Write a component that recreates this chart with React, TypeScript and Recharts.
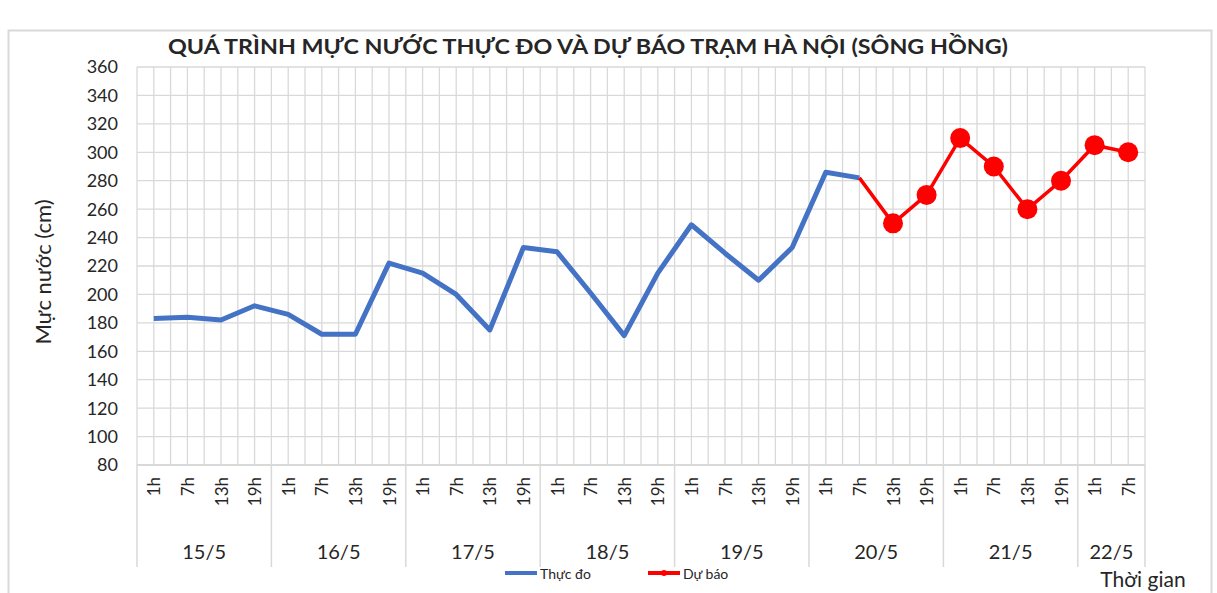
import React from 'react'
import { LineChart, Line, XAxis, YAxis, CartesianGrid, Legend } from 'recharts'

const days = ['15/5', '16/5', '17/5', '18/5', '19/5', '20/5', '21/5', '22/5']
const hoursPerDay = [4, 4, 4, 4, 4, 4, 4, 2]
const hourLabels = ['1h', '7h', '13h', '19h']

// Thực đo (measured), 15/5 1h .. 20/5 7h
const observed = [
    183, 184, 182, 192,
    186, 172, 172, 222,
    215, 200, 175, 233,
    230, 201, 171, 215,
    249, 229, 210, 233,
    286, 282,
]
// Dự báo (forecast), joins the measured line at 20/5 7h
const forecastStart = 21
const forecast = [282, 250, 270, 310, 290, 260, 280, 305, 300]

const yTicks = [80, 100, 120, 140, 160, 180, 200, 220, 240, 260, 280, 300, 320, 340, 360]

const W = 1217
const H = 593
const PLOT_LEFT = 137
const PLOT_RIGHT = 1145
const PLOT_TOP = 67
const PLOT_BOTTOM = 465
const FONT = 'Lato, "Noto Sans", sans-serif'
const TEXT = '#262626'
const GRID = '#d9d9d9'

type Row = {
    key: string
    day: string
    hour: string
    first: boolean
    groupSize: number
    observed: number | null
    forecast: number | null
}

const rows: Row[] = []
days.forEach((day, d) => {
    for (let h = 0; h < hoursPerDay[d]; h++) {
        const i = rows.length
        rows.push({
            key: `${day} ${hourLabels[h]}`,
            day,
            hour: hourLabels[h],
            first: h === 0,
            groupSize: hoursPerDay[d],
            observed: i < observed.length ? observed[i] : null,
            forecast: i >= forecastStart ? forecast[i - forecastStart] : null,
        })
    }
})

const BAND = (PLOT_RIGHT - PLOT_LEFT) / rows.length

function HourDayTick(props: any) {
    const { x, y, payload } = props
    const i = payload.index
    const row = rows[i]
    const left = x - BAND / 2
    return (
        <g>
            <text
                transform={`translate(${x},${y + 12}) rotate(-90)`}
                textAnchor="end"
                dominantBaseline="central"
                fontSize={17}
                fontFamily={FONT}
                fill={TEXT}
            >
                {row.hour}
            </text>
            {row.first && (
                <line x1={left} x2={left} y1={y} y2={y + 102} stroke={GRID} strokeWidth={1.5} />
            )}
            {row.first && (
                <text
                    x={left + (row.groupSize * BAND) / 2}
                    y={y + 86}
                    textAnchor="middle"
                    dominantBaseline="central"
                    fontSize={20}
                    fontFamily={FONT}
                    fill={TEXT}
                >
                    {row.day}
                </text>
            )}
            {i === rows.length - 1 && (
                <line x1={x + BAND / 2} x2={x + BAND / 2} y1={y} y2={y + 102} stroke={GRID} strokeWidth={1.5} />
            )}
        </g>
    )
}

function ForecastDot(props: any) {
    const { cx, cy, index, value } = props
    if (value == null || index <= forecastStart) return <g key={`d-${index}`} />
    return <circle key={`d-${index}`} cx={cx} cy={cy} r={10} fill="#ff0000" />
}

function LegendContent() {
    return (
        <svg width={300} height={20} style={{ overflow: 'visible' }}>
            <line x1={0} x2={32} y1={10} y2={10} stroke="#4472c4" strokeWidth={4} />
            <text x={35} y={10} dominantBaseline="central" fontSize={14} fontFamily={FONT} fill={TEXT}>
                Thực đo
            </text>
            <line x1={143} x2={175} y1={10} y2={10} stroke="#ff0000" strokeWidth={4} />
            <circle cx={159} cy={10} r={3} fill="#ff0000" />
            <text x={178} y={10} dominantBaseline="central" fontSize={14} fontFamily={FONT} fill={TEXT}>
                Dự báo
            </text>
        </svg>
    )
}

function gridX(props: any) {
    const left = props?.offset?.left ?? PLOT_LEFT
    const width = props?.offset?.width ?? PLOT_RIGHT - PLOT_LEFT
    const n = rows.length * 2
    const xs: number[] = []
    for (let k = 0; k <= n; k++) xs.push(left + (k * width) / n)
    return xs
}

export default function App() {
    return (
        <div style={{ position: 'absolute', left: 0, top: 0, width: W, height: H, background: '#fff' }}>
            <svg width={W} height={H} style={{ position: 'absolute', left: 0, top: 0 }}>
                <rect x={8.5} y={30.5} width={1203} height={620} fill="none" stroke={GRID} strokeWidth={2} />
            </svg>
            <div style={{ position: 'absolute', left: 0, top: 0 }}>
                <LineChart
                    width={W}
                    height={H}
                    data={rows}
                    margin={{ top: PLOT_TOP, right: W - PLOT_RIGHT, bottom: 0, left: 0 }}
                >
                    <CartesianGrid
                        stroke={GRID}
                        strokeWidth={1.3}
                        verticalCoordinatesGenerator={gridX}
                    />
                    <XAxis
                        dataKey="key"
                        height={H - PLOT_BOTTOM}
                        interval={0}
                        padding={{ left: BAND / 2, right: BAND / 2 }}
                        tickLine={false}
                        tickSize={0}
                        tickMargin={0}
                        axisLine={{ stroke: GRID, strokeWidth: 2 }}
                        tick={<HourDayTick />}
                    />
                    <YAxis
                        width={PLOT_LEFT}
                        domain={[80, 360]}
                        ticks={yTicks}
                        interval={0}
                        tickLine={false}
                        axisLine={false}
                        tickSize={0}
                        tickMargin={19}
                        tick={{ fontSize: 18, fontFamily: FONT, fill: TEXT }}
                    />
                    <Legend
                        layout="horizontal"
                        verticalAlign="middle"
                        align="center"
                        content={<LegendContent />}
                        wrapperStyle={{ position: 'absolute', left: 505, top: 563, width: 300, height: 20 }}
                    />
                    <Line
                        dataKey="observed"
                        name="Thực đo"
                        stroke="#4472c4"
                        strokeWidth={5}
                        dot={false}
                        activeDot={false}
                        strokeLinejoin="round"
                        isAnimationActive={false}
                    />
                    <Line
                        dataKey="forecast"
                        name="Dự báo"
                        stroke="#ff0000"
                        strokeWidth={3.5}
                        dot={<ForecastDot />}
                        activeDot={false}
                        isAnimationActive={false}
                    />
                </LineChart>
            </div>
            <svg width={W} height={H} style={{ position: 'absolute', left: 0, top: 0, pointerEvents: 'none' }}>
                <text
                    x={588}
                    y={45}
                    textAnchor="middle"
                    dominantBaseline="central"
                    fontSize={21}
                    fontWeight="bold"
                    fontFamily={FONT}
                    fill={TEXT}
                    textLength={840}
                    lengthAdjust="spacingAndGlyphs"
                >
                    QUÁ TRÌNH MỰC NƯỚC THỰC ĐO VÀ DỰ BÁO TRẠM HÀ NỘI (SÔNG HỒNG)
                </text>
                <text
                    transform="translate(42,272) rotate(-90)"
                    textAnchor="middle"
                    dominantBaseline="central"
                    fontSize={22}
                    fontFamily={FONT}
                    fill={TEXT}
                >
                    Mực nước (cm)
                </text>
                <text x={1143} y={578} textAnchor="middle" dominantBaseline="central" fontSize={21} fontFamily={FONT} fill={TEXT}>
                    Thời gian
                </text>
            </svg>
        </div>
    )
}
